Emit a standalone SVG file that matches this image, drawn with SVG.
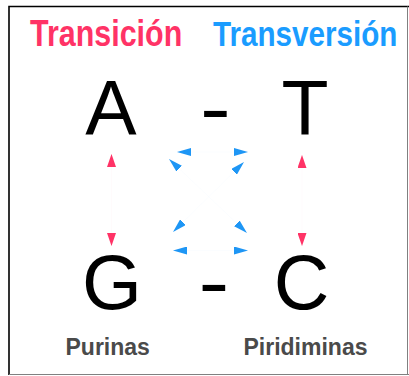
<svg xmlns="http://www.w3.org/2000/svg" width="409" height="376" viewBox="0 0 409 376">
  <style>
    .title { font-family: "Liberation Sans", Arial, sans-serif; font-weight: bold; font-size: 36px; }
    .base { font-family: "Liberation Sans", Arial, sans-serif; font-size: 77px; fill: #000; text-anchor: middle; }
    .dash { font-family: "Liberation Sans", Arial, sans-serif; font-size: 77px; fill: #000; text-anchor: middle; }
    .group { font-family: "Liberation Sans", Arial, sans-serif; font-weight: bold; font-size: 23px; fill: #4a4a4a; }
    .ti { fill: none; stroke: #ff3366; stroke-width: 0.3; stroke-opacity: 0.08; marker-start: url(#headTi); marker-end: url(#headTi); }
    .tv { fill: none; stroke: #1e96f5; stroke-width: 0.3; stroke-opacity: 0.08; marker-start: url(#headTv); marker-end: url(#headTv); }
  </style>
  <defs>
    <marker id="headTi" viewBox="0 0 13 9" refX="13" refY="4.5" markerWidth="13" markerHeight="9" markerUnits="userSpaceOnUse" orient="auto-start-reverse">
      <path d="M0,0 L13,4.5 L0,9 Z" fill="#ff3366"/>
    </marker>
    <marker id="headTv" viewBox="0 0 14 8" refX="14" refY="4" markerWidth="14" markerHeight="8" markerUnits="userSpaceOnUse" orient="auto-start-reverse">
      <path d="M0,0 L14,4 L0,8 Z" fill="#1e96f5"/>
    </marker>
  </defs>

  <!-- frame -->
  <rect x="0" y="0" width="409" height="376" fill="#fff"/>
  <path d="M9,375 V6.5 H409" fill="none" stroke="#000" stroke-width="1.6"/>
  <path d="M407.5,6.5 V374.5 M9,374.5 H409" fill="none" stroke="#808080" stroke-width="1"/>

  <!-- legend (condensed bold captions) -->
  <g id="legend">
    <text class="title" x="0" y="0" fill="#ff3366" transform="translate(30,46) scale(0.846,1)">Transición</text>
    <text class="title" x="0" y="0" fill="#1a9cff" transform="translate(213,46) scale(0.823,1)">Transversión</text>
  </g>

  <!-- bases -->
  <g id="nodeA"><text class="base" x="111" y="135">A</text></g>
  <g id="nodeT"><text class="base" x="305" y="135">T</text></g>
  <g id="nodeG"><text class="base" x="112" y="309">G</text></g>
  <g id="nodeC"><text class="base" x="301.5" y="309">C</text></g>
  <g id="pairAT"><text class="dash" x="215.5" y="135" transform="translate(215.5,0) scale(1.2,1) translate(-215.5,0)">-</text></g>
  <g id="pairGC"><text class="dash" x="214" y="309" transform="translate(214,0) scale(1.2,1) translate(-214,0)">-</text></g>

  <!-- group labels -->
  <g id="purines"><text class="group" x="65.5" y="355">Purinas</text></g>
  <g id="pyrimidines"><text class="group" x="243.5" y="355">Piridiminas</text></g>

  <!-- substitutions: transitions (pink) and transversions (blue) -->
  <g id="connectors">
    <path class="ti" d="M111.5,154 V246"/>
    <path class="ti" d="M302,155 V246"/>
    <path class="tv" d="M177,152 H248"/>
    <path class="tv" d="M173,250.5 H248"/>
    <path class="tv" d="M169,159 L247,233"/>
    <path class="tv" d="M244,162 L173,232"/>
  </g>
</svg>
